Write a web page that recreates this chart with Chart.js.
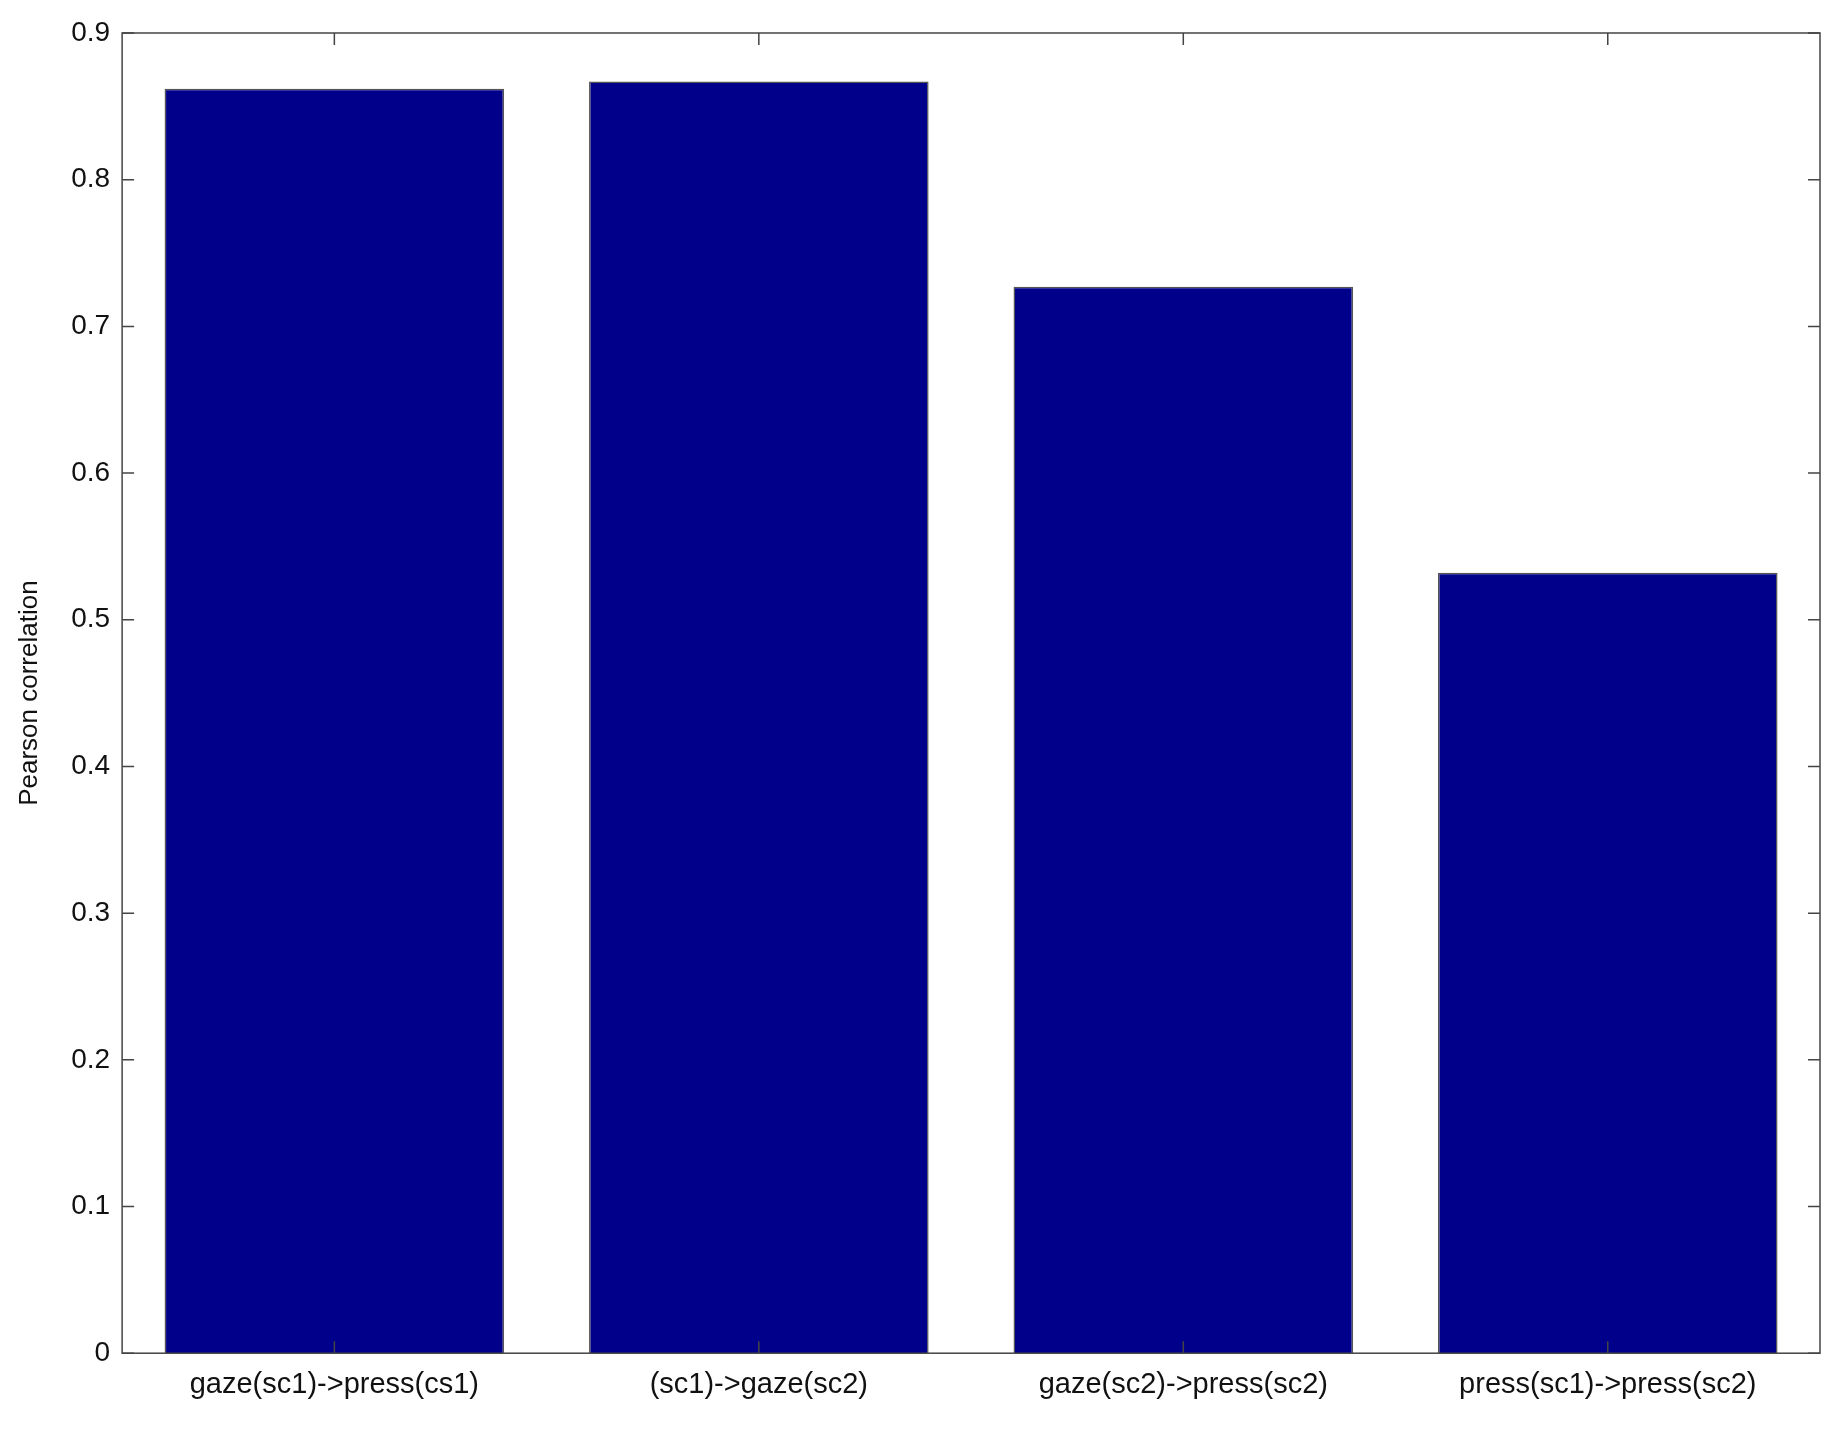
<!DOCTYPE html>
<html>
<head>
<meta charset="utf-8">
<script src="https://cdn.jsdelivr.net/npm/chart.js@4"></script>
<style>
  html, body { margin: 0; padding: 0; background: #fff; }
  #wrap { width: 1842px; height: 1434px; }
</style>
</head>
<body>
<div id="wrap"><canvas id="chart"></canvas></div>
<script>
// data
const categories = ['gaze(sc1)->press(cs1)', '(sc1)->gaze(sc2)', 'gaze(sc2)->press(sc2)', 'press(sc1)->press(sc2)'];
const correlations = [0.862, 0.867, 0.727, 0.532];
const yTicks = [0, 0.1, 0.2, 0.3, 0.4, 0.5, 0.6, 0.7, 0.8, 0.9];

// box around the plot with inward ticks on every side, like matlab
const framePlugin = {
    id: 'frame',
    afterDraw(chart) {
        const { ctx, chartArea: a, scales } = chart;
        ctx.save();
        ctx.strokeStyle = '#444';
        ctx.lineWidth = 1.5;
        ctx.strokeRect(a.left, a.top, a.right - a.left, a.bottom - a.top);
        const len = 12;
        yTicks.forEach(v => {
            const y = scales.y.getPixelForValue(v);
            ctx.beginPath();
            ctx.moveTo(a.left, y); ctx.lineTo(a.left + len, y);
            ctx.moveTo(a.right, y); ctx.lineTo(a.right - len, y);
            ctx.stroke();
        });
        categories.forEach((c, i) => {
            const x = scales.x.getPixelForValue(i);
            ctx.beginPath();
            ctx.moveTo(x, a.bottom); ctx.lineTo(x, a.bottom - len);
            ctx.moveTo(x, a.top); ctx.lineTo(x, a.top + len);
            ctx.stroke();
        });
        ctx.restore();
    }
};

const ctx = document.getElementById('chart').getContext('2d');
new Chart(ctx, {
    type: 'bar',
    data: {
        labels: categories,
        datasets: [{
            data: correlations,
            backgroundColor: '#00008b',
            borderColor: '#555',
            borderWidth: 1.5,
            categoryPercentage: 1.0,
            barPercentage: 0.8
        }]
    },
    options: {
        responsive: true,
        maintainAspectRatio: false,
        animation: false,
        layout: { padding: { top: 33, right: 22, bottom: 18, left: 10 } },
        plugins: { legend: { display: false }, tooltip: { enabled: false } },
        scales: {
            x: {
                grid: { display: false, drawTicks: false },
                border: { display: false },
                ticks: {
                    color: '#111', padding: 14, maxRotation: 0,
                    font: { family: 'Liberation Sans', size: 29 }
                }
            },
            y: {
                min: 0, max: 0.9,
                afterBuildTicks: s => { s.ticks = yTicks.map(v => ({ value: v })); },
                grid: { display: false, drawTicks: false },
                border: { display: false },
                ticks: {
                    color: '#111', padding: 12,
                    font: { family: 'Liberation Sans', size: 28 },
                    callback: v => v === 0 ? '0' : v.toFixed(1)
                },
                title: {
                    display: true, text: 'Pearson correlation', color: '#111',
                    font: { family: 'Liberation Sans', size: 26 }, padding: { bottom: 14 }
                }
            }
        }
    },
    plugins: [framePlugin]
});
</script>
</body>
</html>
